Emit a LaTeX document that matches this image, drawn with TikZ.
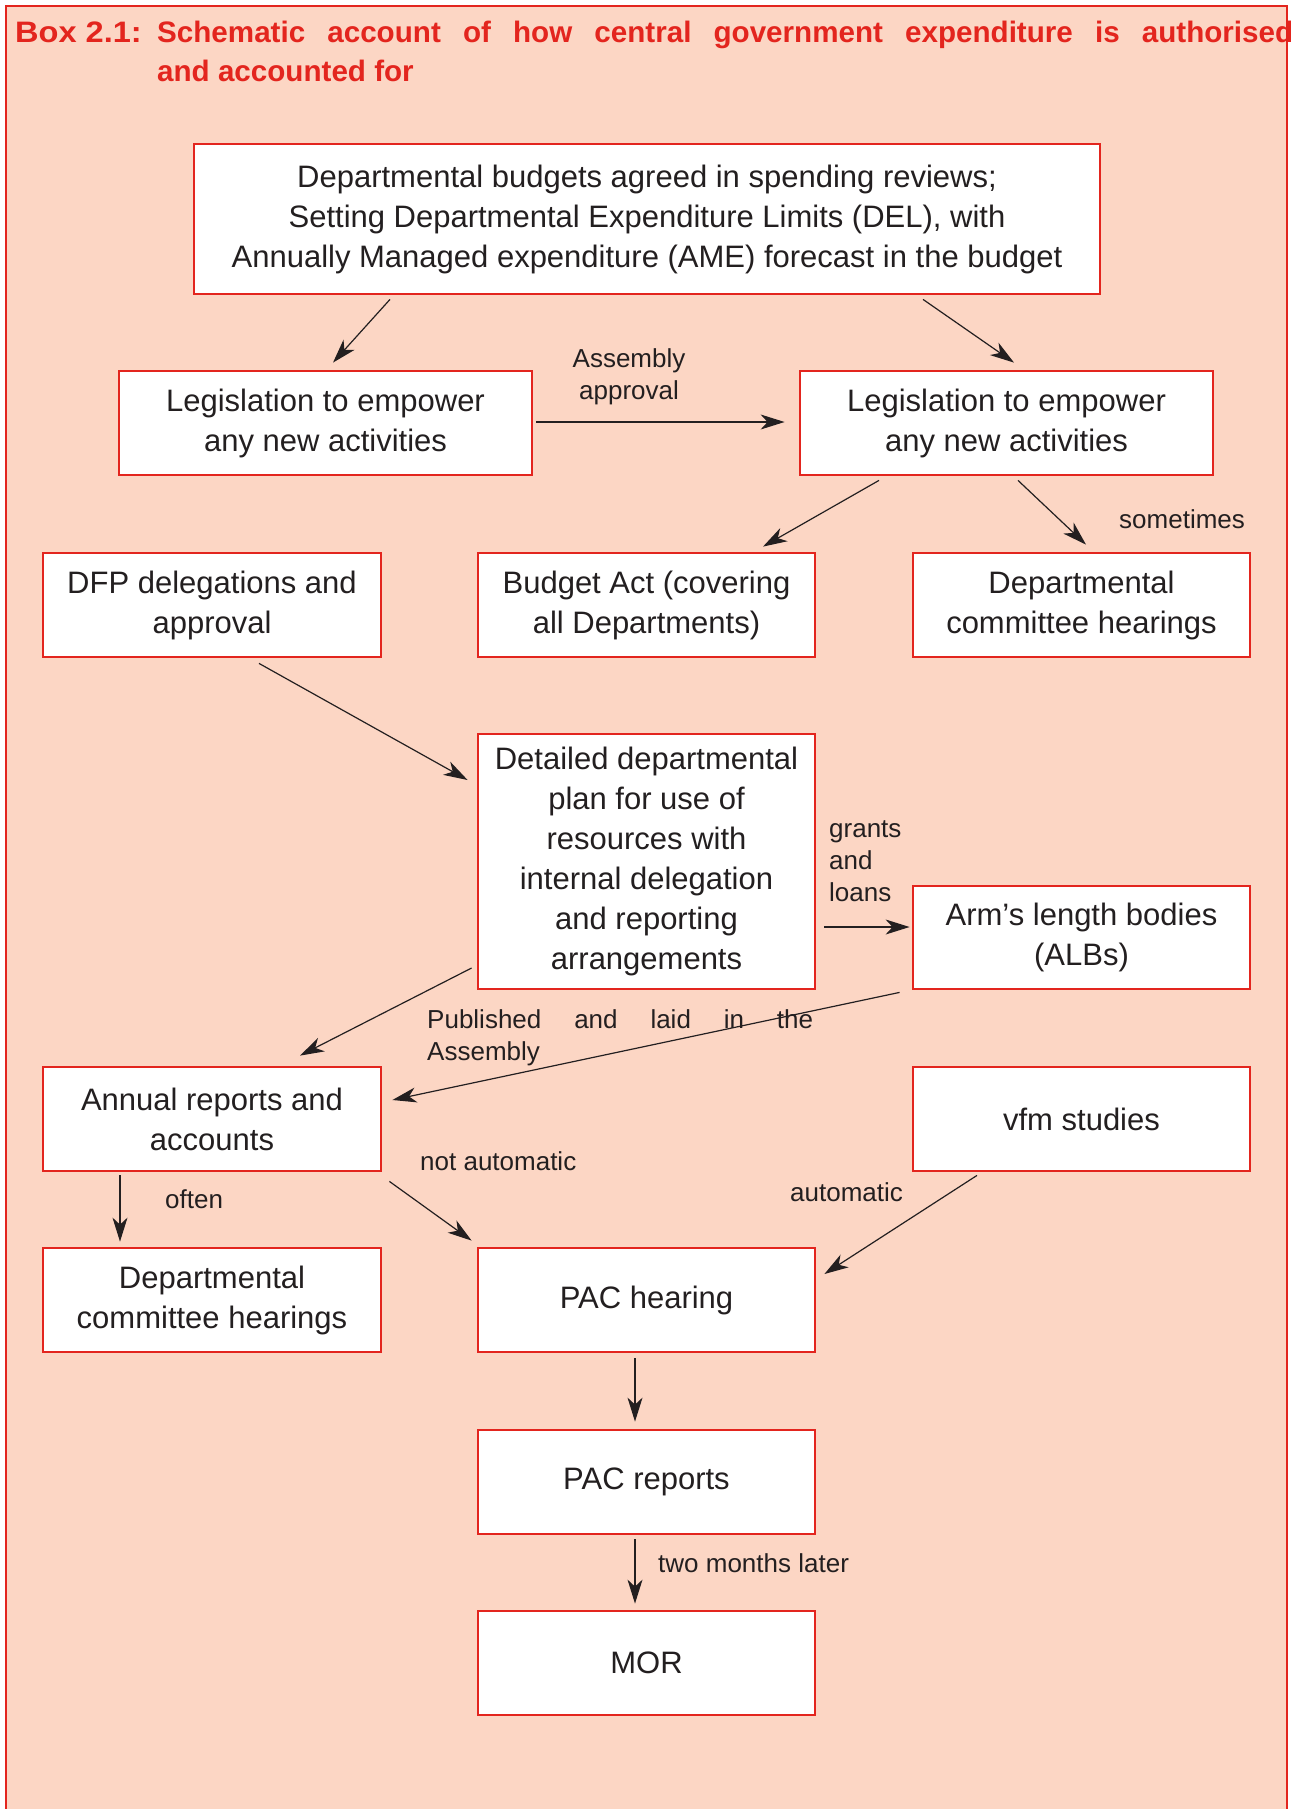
\documentclass[tikz,border=0pt]{standalone}
\usepackage{fontspec}
\setmainfont{Liberation Sans}
\usetikzlibrary{arrows.meta,calc}
\definecolor{peach}{HTML}{FCD6C4}
\definecolor{boxred}{HTML}{E3251E}
\definecolor{ink}{HTML}{231F20}
\begin{document}
\begin{tikzpicture}[x=1pt,y=-1pt,
  bx/.style={draw=boxred, line width=2.8pt, fill=white, align=center, inner sep=0pt,
    font=\fontsize{31}{40}\selectfont, text=ink},
  arr/.style={draw=ink, line width=1.2pt, -{Stealth[length=24pt,width=15pt,inset=7pt]}},
  lbl/.style={font=\fontsize{26}{32}\selectfont, text=ink, inner sep=0pt},
  ttl/.style={font=\fontsize{29.6}{36}\selectfont\bfseries, text=boxred, inner sep=0pt, anchor=base west}]
\useasboundingbox (0,0) rectangle (1290,1809);
\clip (0,0) rectangle (1290,1809);
\fill[white] (0,0) rectangle (1290,1809);
\filldraw[fill=peach, draw=boxred, line width=2pt] (6,6) rectangle (1287,1840);

% title
\node[ttl] (boxno) at (15,43) {\scalebox{1.1}[1]{Box 2.1:}};
\node[ttl] (title1) at (157,43) {\makebox[1136pt][s]{Schematic account of how central government expenditure is authorised}};
\node[ttl] (title2) at (157,82) {and accounted for};

% boxes
\node[bx, minimum width=906pt, minimum height=150pt] (top) at (647,219)
  {Departmental budgets agreed in spending reviews;\\Setting Departmental Expenditure Limits (DEL), with\\Annually Managed expenditure (AME) forecast in the budget};
\node[bx, minimum width=413pt, minimum height=104pt] (leg1) at (325.5,423) {Legislation to empower\\any new activities};
\node[bx, minimum width=413pt, minimum height=104pt] (leg2) at (1006.5,423) {Legislation to empower\\any new activities};
\node[bx, minimum width=338pt, minimum height=104pt] (dfp) at (212,605) {DFP delegations and\\approval};
\node[bx, minimum width=337pt, minimum height=104pt] (budget) at (646.5,605) {Budget Act (covering\\all Departments)};
\node[bx, minimum width=337pt, minimum height=104pt] (dch1) at (1081.5,605) {Departmental\\committee hearings};
\node[bx, minimum width=337pt, minimum height=255pt] (plan) at (646.5,861.5)
  {Detailed departmental\\plan for use of\\resources with\\internal delegation\\and reporting\\arrangements};
\node[bx, minimum width=337pt, minimum height=103pt] (alb) at (1081.5,937.5) {Arm’s length bodies\\(ALBs)};
\node[bx, minimum width=338pt, minimum height=104pt] (annual) at (212,1119) {Annual reports and\\accounts};
\node[bx, minimum width=337pt, minimum height=104pt] (vfm) at (1081.5,1119) {vfm studies};
\node[bx, minimum width=338pt, minimum height=104pt] (dch2) at (212,1300) {Departmental\\committee hearings};
\node[bx, minimum width=337pt, minimum height=104pt] (pac) at (646.5,1300) {PAC hearing};
\node[bx, minimum width=337pt, minimum height=104pt] (pacr) at (646.5,1482) {PAC reports};
\node[bx, minimum width=337pt, minimum height=104pt] (mor) at (646.5,1663) {MOR};

% connectors
\draw[arr] ($(top.south)+(-257,4)$) -- ($(leg1.north)+(7.5,-7)$);
\draw[arr] ($(top.south)+(276,4)$) -- ($(leg2.north)+(7.5,-7)$);
\draw[arr] ($(leg1.east)+(3,-1)$) -- ($(leg2.west)+(-14,-1)$);
\draw[arr] ($(leg2.south)+(-127.5,4)$) -- ($(budget.north)+(116.5,-5)$);
\draw[arr] ($(leg2.south)+(11.5,4)$) -- ($(dch1.north)+(4.5,-7)$);
\draw[arr] ($(dfp.south)+(47,5)$) -- ($(plan.west)+(-9,-81.5)$);
\draw[arr] ($(plan.east)+(8,65.5)$) -- ($(alb.west)+(-2,-10.5)$);
\draw[arr] ($(plan.west)+(-5,106.5)$) -- ($(annual.north)+(88,-10)$);
\draw[arr] ($(alb.south west)+(-12,2)$) -- ($(annual.east)+(10,-19)$);
\draw[arr] ($(annual.south)+(-92,3)$) -- ($(dch2.north)+(-92,-5)$);
\draw[arr] ($(annual.south east)+(7,9)$) -- ($(pac.north west)+(-5,-6)$);
\draw[arr] ($(vfm.south)+(-104.5,3)$) -- ($(pac.east)+(8,-26)$);
\draw[arr] ($(pac.south)+(-11.5,5)$) -- ($(pacr.north)+(-11.5,-7)$);
\draw[arr] ($(pacr.south)+(-11.5,4)$) -- ($(mor.north)+(-11.5,-6)$);

% labels
\node[lbl, align=center] (laa) at (629,377) {Assembly\\approval};
\node[lbl, anchor=west] (lsome) at (1119,519) {sometimes};
\node[lbl, anchor=west, align=left] (lgrants) at (829,861) {grants\\and\\loans};
\node[lbl, anchor=base west] (lpub) at (427,1028) {\makebox[386pt][s]{Published and laid in the}};
\node[lbl, anchor=base west] (lpub2) at (427,1060) {Assembly};
\node[lbl, anchor=west] (lnot) at (420,1161) {not automatic};
\node[lbl, anchor=west] (loften) at (165,1199) {often};
\node[lbl, anchor=west] (lauto) at (790,1192) {automatic};
\node[lbl, anchor=west] (ltwo) at (658,1563) {two months later};
\end{tikzpicture}
\end{document}
